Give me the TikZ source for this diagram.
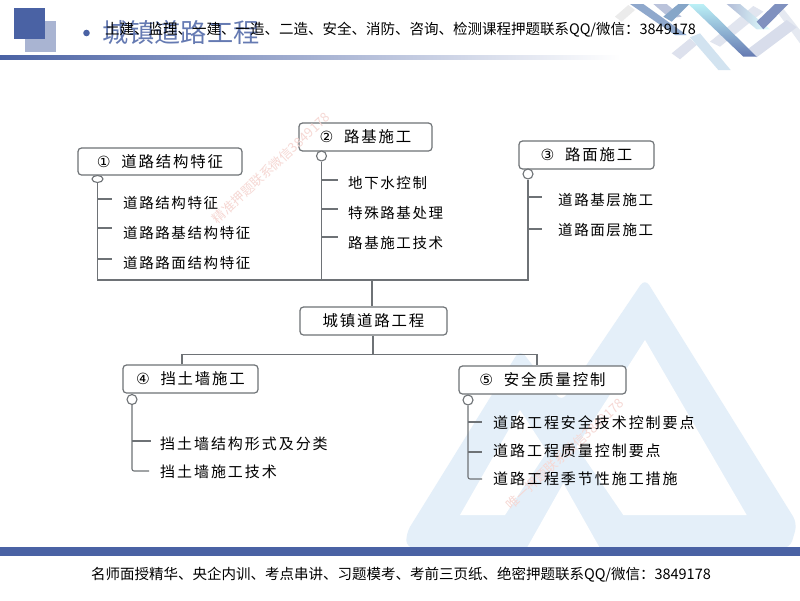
\documentclass[tikz,border=0pt]{standalone}
\usepackage{fontspec}
\usetikzlibrary{shapes.geometric}
\setmainfont{Noto Sans CJK SC}
\newfontfamily\symfont{DejaVu Sans}
\newfontfamily\itemA[LetterSpace=11]{Noto Sans CJK SC}
\newfontfamily\itemB[LetterSpace=13]{Noto Sans CJK SC}
\newfontfamily\headF[LetterSpace=12]{Noto Sans CJK SC}
\definecolor{lineC}{HTML}{6E7276}
\definecolor{blueA}{HTML}{4A62A4}
\definecolor{blueB}{HTML}{A9B4D2}
\definecolor{wmC}{HTML}{F6D8D4}
\definecolor{triC}{HTML}{E4EFF9}
\definecolor{bandA}{HTML}{8FA8CC}
\definecolor{bandB}{HTML}{86A6C8}
\tikzset{
 x=1pt,y=-1pt,
 conn/.style={draw=lineC,line width=1.1pt},
 headbox/.style={draw=lineC,line width=1.2pt,rounded corners=3.5pt,fill=white,inner sep=0pt,text=black,font=\headF\fontsize{15.4}{15.4}\selectfont},
 itemtext/.style={anchor=west,inner sep=0pt,text height=12pt,text depth=2pt,text=black,font=\itemA\fontsize{14.5}{14.5}\selectfont},
 itemtextB/.style={itemtext,font=\itemB\fontsize{15}{15}\selectfont},
 dot/.style={circle,draw=lineC,line width=1.1pt,fill=white,minimum size=10pt,inner sep=0pt},
 wm/.style={text=wmC,font=\fontsize{13}{13}\selectfont,rotate=43,inner sep=0pt},
 topT/.style={inner sep=0pt,font=\fontsize{14.5}{14.5}\selectfont,text=black},
}
\begin{document}
\begin{tikzpicture}
\useasboundingbox (0,0) rectangle (800,600);
\fill[white] (0,0) rectangle (800,600);
% background mountains
\begin{scope}[shift={(380,270)},scale=0.33333]
\fill[triC,rounded corners=8pt] (80,835) -- (78,790) -- (420,238) -- (545,395) -- (795,25) -- (1252,760) -- (1230,835) -- cycle;
\fill[white] (420,420) -- (240,735) -- (375,735) -- (501,545) -- cycle;
\fill[white] (795,210) -- (1100,735) -- (730,735) -- (590,530) -- cycle;
\fill[white] (440,835) -- (550,640) -- (660,835) -- cycle;
\end{scope}
% header decoration
\fill[blueA] (86.5,33) circle (3.3pt);
\fill[blueB] (25,21) rectangle (56,52);
\fill[blueA] (14,8) rectangle (45,39);
\shade[left color=blueA,middle color=blueB!90,right color=white] (0,55) rectangle (620,59);
\begin{scope}[shift={(600,0)},scale=0.33333]
\fill[black!8] (45,50) -- (85,15) -- (105,30) -- (65,65) -- cycle;
\fill[blueB!35] (330,125) -- (460,18) -- (490,35) -- (360,140) -- cycle;
\fill[blueB!40] (215,160) -- (270,115) -- (290,135) -- (240,178) -- cycle;
\fill[blueB!30] (520,20) -- (545,20) -- (600,90) -- (600,130) -- cycle;
\fill[cyan!30!blueB!35] (270,112) -- (300,100) -- (392,210) -- (355,210) -- cycle;
\fill[blueB!45] (440,150) -- (560,60) -- (590,82) -- (470,172) -- cycle;
\fill[bandA] (90,12) -- (130,12) -- (260,105) -- (225,105) -- cycle;
\fill[blueB!80] (160,12) -- (200,12) -- (245,50) -- (210,55) -- cycle;
\fill[bandB] (235,12) -- (268,12) -- (215,65) -- (190,50) -- cycle;
\shade[left color=blueB!50!cyan!40,right color=blueA!85,shading angle=0] (265,12) -- (310,12) -- (470,170) -- (430,170) -- cycle;
\shade[left color=blueB!90,right color=cyan!12!white] (380,12) -- (420,12) -- (510,88) -- (470,88) -- cycle;
\fill[blueA!70] (565,12) -- (525,12) -- (470,65) -- (490,88) -- cycle;
\end{scope}
\node[inner sep=0pt,anchor=west,text=blueA!85,font=\fontsize{26.2}{26.2}\selectfont] (title) at (102,33) {城镇道路工程};
\node[topT,anchor=west] (topline) at (105,29.5) {土建、监理、一建、一造、二造、安全、消防、咨询、检测课程押题联系QQ/微信：3849178};
% bottom
\fill[blueA] (0,547) rectangle (800,556);
\node[topT,anchor=center] (bottomline) at (401,575) {名师面授精华、央企内训、考点串讲、习题模考、考前三页纸、绝密押题联系QQ/微信：3849178};
% boxes
\node[headbox,minimum width=164pt,minimum height=27pt] (b1) at (160,161.5) {{\symfont ①}\ \ 道路结构特征};
\node[headbox,minimum width=133pt,minimum height=28pt] (b2) at (365.5,137) {{\symfont ②}\ \ 路基施工};
\node[headbox,minimum width=135pt,minimum height=28pt] (b3) at (586.5,155) {{\symfont ③}\ \ 路面施工};
\node[headbox,minimum width=147pt,minimum height=28pt] (root) at (373.5,321) {城镇道路工程};
\node[headbox,minimum width=135pt,minimum height=28pt] (b4) at (190.5,379) {{\symfont ④}\ \ 挡土墙施工};
\node[headbox,minimum width=167pt,minimum height=28pt] (b5) at (542.5,380) {{\symfont ⑤}\ \ 安全质量控制};
% junction coordinates
\coordinate (j1) at (97,280);
\coordinate (j2) at (322,280);
\coordinate (j3) at (528,280);
\coordinate (busU) at (372,280);
\coordinate (busL) at (373,354.5);
\coordinate (j4) at (182,354.5);
\coordinate (j5) at (537,354.5);
% stems
\node[dot,ellipse,minimum width=11pt,minimum height=7pt] (d1) at (97.5,179) {};
\node[dot] (d2) at (321.5,156) {};
\node[dot] (d3) at (528,174) {};
\node[dot] (d4) at (132,399.5) {};
\node[dot] (d5) at (468,400) {};
\draw[conn] (d1.south) -- (j1 -| d1.south) -- (j3) -- (d3.south);
\draw[conn] (d2.south) -- (d2.south |- j2);
\draw[conn] (busU) -- (busU |- root.north);
\draw[conn] (busL |- root.south) -- (busL);
\draw[conn] (j4 |- b4.north) -- (j4) -- (j5) -- (j5 |- b5.north);
\coordinate (e4) at (149,471);
\coordinate (e5) at (482,479);
\draw[conn,rounded corners=2pt] (d4.south) -- (d4.south |- e4) -- (e4);
\draw[conn,rounded corners=2pt] (d5.south) -- (d5.south |- e5) -- (e5);
% ticks
\foreach \n/\ax/\bx/\yy in {a/97.5/112/199,b/97.5/112/228,c/97.5/112/259,d/322/338/180,e/322/338/209,f/322/338/237,g/528/542/197,h/528/542/229,i/132/151/441,k/468/482/422,l/468/482/452}{
 \coordinate (s\n) at (\ax,\yy);
 \coordinate (t\n) at (\bx,\yy);
 \draw[conn] (s\n) -- (t\n);
}
% watermarks
\node[wm] (wmA) at (271,168) {精准押题联系微信3849178};
\node[wm] (wmB) at (565,454) {唯一押题联系微信3849178};
% items
\node[itemtext] (i11) at (123,203) {道路结构特征};
\node[itemtext] (i12) at (123,233) {道路路基结构特征};
\node[itemtext] (i13) at (123,263) {道路路面结构特征};
\node[itemtext] (i21) at (348,183) {地下水控制};
\node[itemtext] (i22) at (348,213) {特殊路基处理};
\node[itemtext] (i23) at (348,243) {路基施工技术};
\node[itemtext] (i31) at (558,200) {道路基层施工};
\node[itemtext] (i32) at (558,230) {道路面层施工};
\node[itemtextB] (i41) at (160,444) {挡土墙结构形式及分类};
\node[itemtextB] (i42) at (160,472) {挡土墙施工技术};
\node[itemtextB] (i51) at (493,423) {道路工程安全技术控制要点};
\node[itemtextB] (i52) at (493,451) {道路工程质量控制要点};
\node[itemtextB] (i53) at (493,479) {道路工程季节性施工措施};
\end{tikzpicture}
\end{document}
